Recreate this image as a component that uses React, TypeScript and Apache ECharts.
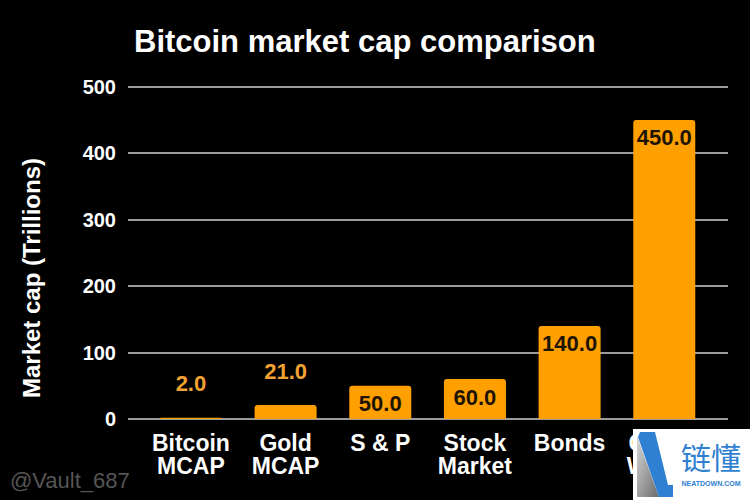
import React, { useEffect, useRef } from "react";
import * as echarts from "echarts";

const categories = ["Bitcoin\nMCAP", "Gold\nMCAP", "S & P", "Stock\nMarket", "Bonds", "Global\nWealth"];
const values = [2.0, 21.0, 50.0, 60.0, 140.0, 450.0];
const yTicks = { min: 0, max: 500, interval: 100 };
const titleText = "Bitcoin market cap comparison";
const yAxisTitle = "Market cap (Trillions)";
const watermark = "@Vault_687";

const FONT = "'Liberation Sans', Arial, sans-serif";
const ORANGE = "#ff9f00";
const BLUE = "#2f7fd2";

export default function App() {
  const ref = useRef<HTMLDivElement>(null);
  useEffect(() => {
    if (!ref.current) return;
    const chart = echarts.init(ref.current, undefined, { renderer: "svg" });
    const data = values.map((v) => {
      const outside = v < 40;
      return {
        value: v,
        label: outside
          ? { position: "top", distance: 23, color: "#f2a232" }
          : { position: "insideTop", distance: 7, color: "#1e1404" },
      };
    });
    chart.setOption({
      animation: false,
      backgroundColor: "#000000",
      grid: [
        { left: 128, right: 22, top: 86.7, bottom: 81 },
        { left: 143.6, width: 568, top: 86.7, bottom: 81 },
      ],
      xAxis: [
        { type: "value", gridIndex: 0, show: false, min: 0, max: 1 },
        {
          type: "category",
          gridIndex: 1,
          data: categories,
          axisLine: { show: false },
          axisTick: { show: false },
          axisLabel: {
            color: "#ffffff",
            fontFamily: FONT,
            fontWeight: "bold",
            fontSize: 23,
            lineHeight: 23,
            margin: 12,
            interval: 0,
          },
        },
      ],
      yAxis: [
        {
          type: "value",
          gridIndex: 0,
          min: yTicks.min,
          max: yTicks.max,
          interval: yTicks.interval,
          axisLine: { show: false },
          axisTick: { show: false },
          splitLine: { lineStyle: { color: "#cfcfcf", width: 1.5 } },
          axisLabel: {
            color: "#ffffff",
            fontFamily: FONT,
            fontWeight: "bold",
            fontSize: 20,
            margin: 12,
          },
        },
        {
          type: "value",
          gridIndex: 1,
          min: yTicks.min,
          max: yTicks.max,
          interval: yTicks.interval,
          show: false,
          splitLine: { show: false },
        },
      ],
      series: [
        {
          type: "bar",
          xAxisIndex: 1,
          yAxisIndex: 1,
          data,
          barWidth: 62,
          itemStyle: { color: ORANGE, borderRadius: [3, 3, 0, 0] },
          label: {
            show: true,
            fontFamily: FONT,
            fontWeight: "bold",
            fontSize: 22,
            formatter: (p: any) => Number(p.value).toFixed(1),
          },
        },
      ],
      graphic: [
        {
          type: "text",
          x: 134,
          y: 41,
          style: {
            text: titleText,
            fill: "#ffffff",
            font: `bold 31px ${FONT}`,
            textAlign: "left",
            textVerticalAlign: "middle",
          },
        },
        {
          type: "text",
          x: 31,
          y: 278,
          rotation: Math.PI / 2,
          style: {
            text: yAxisTitle,
            fill: "#ffffff",
            font: `bold 24px ${FONT}`,
            textAlign: "center",
            textVerticalAlign: "middle",
          },
        },
        {
          type: "text",
          x: 10,
          y: 480,
          style: {
            text: watermark,
            fill: "#555555",
            font: `22px ${FONT}`,
            textAlign: "left",
            textVerticalAlign: "middle",
          },
        },
        {
          type: "group",
          zlevel: 1,
          z: 100,
          children: [
            { type: "rect", z: 100, shape: { x: 633, y: 429, width: 117, height: 71 }, style: { fill: "#ffffff" } },
            {
              type: "polygon",
              z: 101,
              shape: { points: [[637, 436], [637, 497], [659, 497]] },
              style: {
                fill: new echarts.graphic.LinearGradient(0, 0, 1, 1, [
                  { offset: 0, color: "#d8d8d8" },
                  { offset: 1, color: "#6a6a6a" },
                ]),
              },
            },
            {
              type: "polygon",
              z: 101,
              shape: {
                points: [[640, 432], [655, 432], [668, 485], [673, 485], [673, 497], [659, 497], [638, 437]],
              },
              style: { fill: BLUE },
            },
            {
              type: "text",
              z: 101,
              x: 711,
              y: 456,
              style: {
                text: "链懂",
                fill: BLUE,
                font: `30px 'Noto Sans CJK SC', sans-serif`,
                textAlign: "center",
                textVerticalAlign: "middle",
              },
            },
            {
              type: "text",
              z: 101,
              x: 711,
              y: 483,
              style: {
                text: "NEATDOWN.COM",
                fill: BLUE,
                font: `bold 7px ${FONT}`,
                textAlign: "center",
                textVerticalAlign: "middle",
              },
            },
          ],
        },
      ],
    });
    return () => chart.dispose();
  }, []);
  return <div ref={ref} style={{ width: 750, height: 500, position: "fixed", left: 0, top: 0 }} />;
}
